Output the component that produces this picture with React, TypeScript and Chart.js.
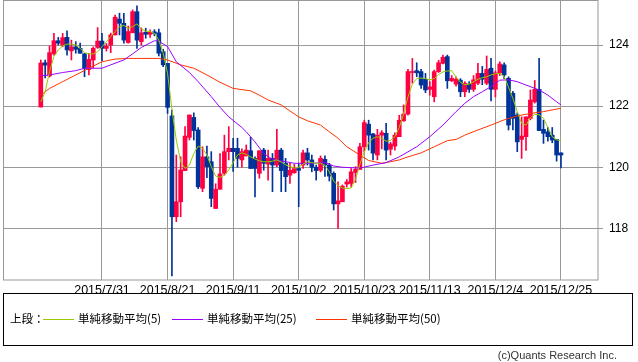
import React, { useEffect, useRef } from "react";
import { Chart, registerables } from "chart.js";

Chart.register(...registerables);

// ---- data (USD/JPY style daily candles, 2015/7/13 .. 2015/12/25) ----
const opens = [
  121.97, 123.42, 122.99, 123.71, 124.14, 124.0, 124.25, 123.81, 123.94, 123.89,
  123.71, 123.2, 123.51, 123.92, 124.13, 123.89, 124.0, 124.33, 124.85, 124.71,
  124.08, 124.4, 125.09, 124.11, 124.42, 124.35, 124.43, 124.4, 123.78, 123.4,
  121.68, 118.38, 118.87, 119.89, 120.98, 121.63, 121.22, 119.31, 120.34, 120.18,
  118.65, 119.28, 119.8, 120.51, 120.62, 120.62, 120.24, 120.37, 120.54, 120.29,
  119.8, 120.56, 120.1, 120.29, 120.07, 120.56, 120.13, 119.74, 119.82, 119.96,
  120.07, 120.47, 120.24, 120.0, 119.9, 120.26, 120.07, 119.8, 118.8, 118.87,
  119.45, 119.47, 119.83, 119.93, 120.67, 121.41, 121.09, 120.4, 121.05, 121.11,
  120.59, 120.69, 121.0, 121.52, 121.74, 123.1, 123.16, 123.13, 122.88, 122.55,
  122.31, 123.13, 123.4, 123.62, 122.83, 122.72, 122.85, 122.47, 122.72, 122.55,
  122.75, 123.07, 122.75, 123.24, 122.55, 123.09, 123.35, 122.91, 122.42, 121.71,
  120.91, 121.0, 121.6, 122.14, 122.55, 121.24, 121.16, 121.05, 120.91, 120.47,
];
const highs = [
  123.51, 123.51, 123.97, 124.38, 124.25, 124.38, 124.46, 124.16, 124.11, 124.06,
  123.73, 123.73, 123.94, 124.57, 124.38, 124.05, 124.39, 124.98, 125.04, 125.04,
  124.62, 125.15, 125.28, 124.56, 124.55, 124.5, 124.5, 124.52, 123.86, 123.4,
  121.87, 120.4, 120.34, 121.33, 121.71, 121.78, 121.3, 120.67, 120.69, 120.51,
  119.46, 120.45, 121.05, 121.33, 120.95, 120.95, 120.6, 120.73, 120.98, 120.34,
  120.54, 120.62, 120.56, 120.45, 121.24, 120.62, 120.29, 120.13, 120.1, 120.13,
  120.56, 120.62, 120.4, 120.07, 120.37, 120.37, 120.13, 119.85, 119.52, 119.42,
  119.6, 119.96, 120.02, 120.78, 121.54, 121.54, 121.11, 121.24, 121.2, 121.44,
  120.82, 121.13, 121.7, 122.04, 123.2, 123.56, 123.42, 123.2, 123.07, 122.8,
  123.18, 123.5, 123.67, 123.67, 123.0, 122.96, 122.9, 122.8, 122.8, 123.0,
  123.4, 123.3, 123.64, 123.56, 123.15, 123.45, 123.42, 122.96, 122.48, 121.78,
  121.65, 121.65, 122.53, 122.84, 123.56, 121.54, 121.3, 121.3, 120.91, 120.47,
];
const lows = [
  121.97, 122.92, 122.95, 123.67, 124.0, 123.94, 123.67, 123.51, 123.73, 123.73,
  122.96, 123.02, 123.24, 123.89, 123.49, 123.8, 123.75, 124.33, 124.33, 124.06,
  124.06, 124.4, 123.89, 124.0, 124.22, 124.25, 124.3, 123.64, 123.29, 121.76,
  116.44, 118.22, 118.38, 119.89, 120.89, 120.89, 119.3, 119.2, 119.66, 118.71,
  118.65, 119.28, 119.74, 120.24, 119.86, 120.0, 120.0, 120.37, 119.96, 119.03,
  119.64, 119.9, 119.58, 119.2, 120.02, 119.2, 119.2, 119.47, 119.8, 118.71,
  119.96, 120.07, 119.85, 119.58, 119.85, 119.7, 119.55, 118.6, 118.0, 118.87,
  119.35, 119.36, 119.5, 119.93, 120.5, 120.56, 120.24, 120.24, 120.6, 120.24,
  120.4, 120.56, 121.0, 121.5, 121.7, 122.75, 122.96, 122.58, 122.44, 122.36,
  122.14, 123.1, 123.38, 122.58, 122.8, 122.65, 122.31, 122.31, 122.45, 122.48,
  122.7, 122.7, 122.7, 122.17, 122.3, 123.0, 122.9, 121.22, 121.22, 120.51,
  120.29, 120.55, 121.55, 122.1, 121.2, 120.78, 120.85, 120.8, 120.2, 119.98,
];
const closes = [
  123.41, 123.34, 123.75, 124.14, 124.06, 124.24, 123.84, 123.94, 123.86, 123.73,
  123.24, 123.53, 123.89, 124.13, 123.89, 123.96, 124.33, 124.91, 124.71, 124.16,
  124.44, 125.09, 124.16, 124.4, 124.35, 124.42, 124.38, 123.73, 123.35, 121.96,
  118.38, 118.87, 119.91, 121.02, 121.71, 121.2, 119.36, 120.34, 120.02, 118.98,
  119.28, 119.78, 120.51, 120.62, 120.51, 120.29, 120.51, 120.56, 119.96, 119.96,
  120.54, 120.13, 120.29, 120.07, 120.56, 119.89, 119.69, 119.9, 119.96, 119.9,
  120.47, 120.24, 120.0, 119.89, 120.29, 120.07, 119.71, 118.8, 118.9, 119.38,
  119.52, 119.85, 119.93, 120.67, 121.46, 121.05, 120.46, 121.05, 121.13, 120.56,
  120.76, 121.05, 121.54, 121.74, 123.13, 123.13, 123.09, 122.69, 122.53, 122.63,
  123.13, 123.42, 123.6, 122.83, 122.91, 122.88, 122.47, 122.75, 122.55, 122.86,
  123.07, 122.88, 123.2, 122.55, 123.09, 123.38, 123.02, 121.38, 121.6, 120.83,
  121.02, 121.65, 122.2, 122.55, 121.2, 121.11, 121.0, 120.89, 120.4, 120.4,
];

const ma5 = [
  122.14, 122.47, 123.13, 123.62, 123.84, 123.97, 124.03, 124.03, 124.0, 123.89,
  123.75, 123.71, 123.71, 123.78, 123.94, 124.11, 124.27, 124.44, 124.6, 124.64,
  124.55, 124.6, 124.69, 124.53, 124.45, 124.44, 124.38, 124.16, 123.73, 123.07,
  121.9, 120.89, 120.18, 119.96, 120.07, 120.45, 120.69, 120.62, 120.4, 120.02,
  119.71, 119.67, 119.74, 119.91, 120.15, 120.4, 120.47, 120.42, 120.34, 120.27,
  120.21, 120.18, 120.18, 120.2, 120.24, 120.17, 120.08, 120.03, 119.97, 120.0,
  120.1, 120.18, 120.15, 120.13, 120.13, 120.06, 119.85, 119.55, 119.4, 119.32,
  119.3, 119.32, 119.6, 120.1, 120.5, 120.8, 120.95, 121.0, 120.95, 120.85,
  120.88, 121.0, 121.3, 121.75, 122.3, 122.72, 122.9, 122.92, 122.9, 122.86,
  122.9, 123.03, 123.12, 123.15, 123.16, 122.95, 122.78, 122.7, 122.72, 122.8,
  122.88, 122.93, 122.96, 123.02, 123.06, 123.07, 122.97, 122.62, 122.25, 121.82,
  121.44, 121.38, 121.62, 121.73, 121.72, 121.6, 121.3, 121.0, 120.9, 120.85,
];

const ma25Idx = [0, 2, 5, 8, 10, 14, 16, 19, 21, 23, 26, 27, 29, 31, 34, 36, 39, 41, 43, 46, 47, 49, 51, 53, 56, 58, 62, 65, 67, 69, 73, 76, 79, 82, 86, 89, 92, 95, 97, 99, 101, 103, 105, 107, 109, 111, 114, 116, 118, 119];
const ma25Val = [122.99, 123.02, 123.1, 123.16, 123.24, 123.24, 123.35, 123.51, 123.71, 123.92, 124.14, 124.12, 123.95, 123.45, 123.1, 122.8, 122.31, 121.96, 121.65, 121.3, 121.16, 120.83, 120.45, 120.26, 120.18, 120.13, 120.13, 120.15, 120.04, 120.0, 119.97, 120.07, 120.15, 120.34, 120.67, 121.0, 121.38, 121.82, 122.09, 122.31, 122.47, 122.64, 122.85, 122.86, 122.8, 122.69, 122.53, 122.36, 122.14, 122.04];

const ma50Idx = [0, 2, 5, 8, 11, 14, 17, 20, 23, 27, 29, 32, 35, 38, 41, 44, 48, 50, 52, 55, 57, 59, 61, 64, 66, 68, 70, 73, 75, 78, 80, 82, 84, 87, 90, 93, 95, 97, 100, 103, 106, 109, 112, 115, 119];
const ma50Val = [122.36, 122.58, 122.8, 123.02, 123.24, 123.45, 123.54, 123.56, 123.56, 123.56, 123.51, 123.35, 123.24, 123.02, 122.78, 122.58, 122.5, 122.36, 122.2, 122.04, 121.84, 121.65, 121.52, 121.38, 121.16, 120.95, 120.67, 120.4, 120.22, 120.13, 120.18, 120.24, 120.34, 120.47, 120.67, 120.87, 120.91, 121.05, 121.22, 121.38, 121.55, 121.68, 121.76, 121.82, 121.93];

const xTickIdx = [14, 29, 44, 59, 74, 89, 104, 119];
const xTickLabels = ["2015/7/31", "2015/8/21", "2015/9/11", "2015/10/2", "2015/10/23", "2015/11/13", "2015/12/4", "2015/12/25"];
const yTicks = [118, 120, 122, 124];

const legendLabels = ["単純移動平均(5)", "単純移動平均(25)", "単純移動平均(50)"];
const legendColors = ["#99cc00", "#9900ff", "#ff3300"];

const RED = "#ff0040";
const BLUE = "#003399";
const GRID = "#999999";

const framePlugin = {
  id: "frame",
  beforeDatasetsDraw(chart: any) {
    const { ctx, chartArea } = chart;
    ctx.save();
    ctx.strokeStyle = GRID;
    ctx.lineWidth = 1;
    ctx.strokeRect(chartArea.left + 0.5, chartArea.top - 0.5, chartArea.right - chartArea.left - 0.5, chartArea.bottom - chartArea.top + 0.5);
    ctx.restore();
  },
};

const noPad = (s: any) => {
  s.paddingTop = 0;
  s.paddingBottom = 0;
  s.paddingLeft = 0;
  s.paddingRight = 0;
};

export default function App() {
  const ref = useRef<HTMLCanvasElement | null>(null);

  useEffect(() => {
    if (!ref.current) return;
    const idx = opens.map((_, i) => i);
    const isUp = (i: number) => closes[i] >= opens[i];
    const candleColor = (c: any) => (isUp(c.dataIndex) ? RED : BLUE);
    const chart = new Chart(ref.current, {
      type: "bar",
      data: {
        datasets: [
          {
            type: "line",
            data: ma5.map((v, i) => ({ x: i, y: v })),
            borderColor: legendColors[0],
            borderWidth: 1,
            pointRadius: 0,
            tension: 0,
            order: 0,
          } as any,
          {
            type: "line",
            data: ma25Idx.map((x, k) => ({ x, y: ma25Val[k] })),
            borderColor: legendColors[1],
            borderWidth: 1,
            pointRadius: 0,
            tension: 0,
            order: 0,
          } as any,
          {
            type: "line",
            data: ma50Idx.map((x, k) => ({ x, y: ma50Val[k] })),
            borderColor: legendColors[2],
            borderWidth: 1,
            pointRadius: 0,
            tension: 0,
            order: 0,
          } as any,
          {
            type: "bar",
            data: idx.map((i) => ({ x: i, y: [lows[i], highs[i]] })),
            backgroundColor: candleColor,
            barThickness: 1,
            grouped: false,
            order: 2,
          } as any,
          {
            type: "bar",
            data: idx.map((i) => ({ x: i, y: [opens[i], closes[i]] })),
            backgroundColor: candleColor,
            barThickness: 4,
            minBarLength: 1,
            grouped: false,
            order: 1,
          } as any,
        ],
      },
      options: {
        animation: false,
        responsive: false,
        maintainAspectRatio: false,
        devicePixelRatio: 1,
        layout: { padding: { left: 3, top: 1, right: 0, bottom: 0 } },
        plugins: { legend: { display: false }, tooltip: { enabled: false } },
        scales: {
          x: {
            type: "linear",
            min: -8.647,
            max: 127.47,
            offset: false,
            afterBuildTicks: (s: any) => {
              s.ticks = xTickIdx.map((v) => ({ value: v }));
            },
            afterFit: (s: any) => {
              s.height = 20;
              noPad(s);
            },
            ticks: {
              autoSkip: false,
              maxRotation: 0,
              padding: 3,
              color: "#000",
              font: { family: "'Liberation Sans', Arial, sans-serif", size: 12.5 },
              callback: (_v: any, i: number) => xTickLabels[i],
            },
            grid: { color: GRID, lineWidth: 1, drawTicks: false, offset: false },
            border: { display: false },
          },
          y: {
            type: "linear",
            position: "right",
            min: 116.31,
            max: 125.44,
            afterBuildTicks: (s: any) => {
              s.ticks = yTicks.map((v) => ({ value: v }));
            },
            afterFit: (s: any) => {
              s.width = 40;
              noPad(s);
            },
            ticks: {
              padding: 6,
              color: "#000",
              font: { family: "'Liberation Sans', Arial, sans-serif", size: 12 },
              callback: (v: any) => String(v),
            },
            grid: { color: GRID, lineWidth: 1, tickLength: 5, offset: false },
            border: { display: false },
          },
        },
      } as any,
      plugins: [framePlugin],
    });
    return () => chart.destroy();
  }, []);

  const legendX = [
    { line: 43, text: 78 },
    { line: 172, text: 207 },
    { line: 316, text: 351 },
  ];

  const textStyle: React.CSSProperties = {
    position: "absolute",
    top: 311,
    fontFamily: "'Noto Sans CJK JP', sans-serif",
    fontSize: 11.5,
    lineHeight: "15px",
    color: "#000",
    whiteSpace: "nowrap",
  };

  return (
    <div style={{ position: "fixed", left: 0, top: 0, width: 638, height: 362, background: "#fff", overflow: "hidden" }}>
      <canvas ref={ref} width={638} height={300} style={{ position: "absolute", left: 0, top: 0, width: 638, height: 300 }} />
      <div
        style={{
          position: "absolute",
          left: 3,
          top: 293,
          width: 630,
          height: 53,
          border: "1px solid #000",
          boxSizing: "border-box",
        }}
      />
      <div style={{ ...textStyle, left: 10 }}>上段：</div>
      <svg width={638} height={362} style={{ position: "absolute", left: 0, top: 0, pointerEvents: "none" }}>
        {legendColors.map((c, k) => (
          <line key={c} x1={legendX[k].line} x2={legendX[k].line + 31} y1={319.5} y2={319.5} stroke={c} strokeWidth={1} shapeRendering="crispEdges" />
        ))}
      </svg>
      {legendLabels.map((lab, k) => (
        <div key={lab} style={{ ...textStyle, left: legendX[k].text }}>
          {lab}
        </div>
      ))}
      <div
        style={{
          position: "absolute",
          right: 21,
          top: 349,
          fontFamily: "'Liberation Sans', Arial, sans-serif",
          fontSize: 11,
          lineHeight: "13px",
          color: "#333",
          whiteSpace: "nowrap",
        }}
      >
        (c)Quants Research Inc.
      </div>
    </div>
  );
}
